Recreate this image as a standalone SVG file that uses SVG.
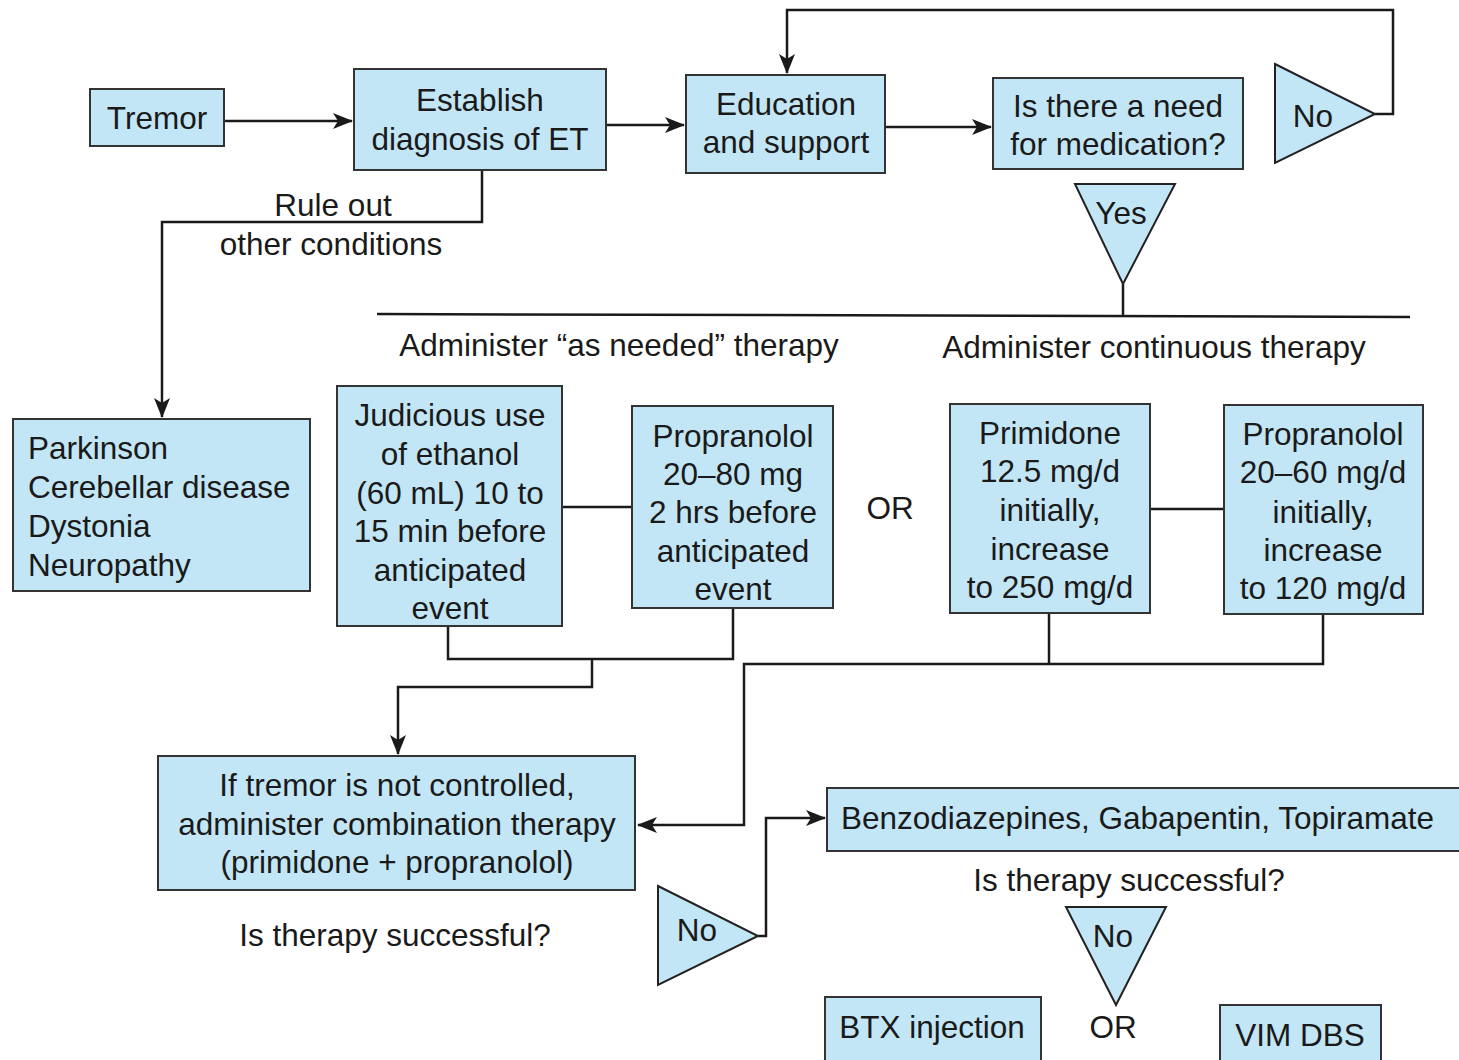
<svg xmlns="http://www.w3.org/2000/svg" width="1459" height="1060" viewBox="0 0 1459 1060">
<defs>
<style>
.box{fill:#c2e6f5;stroke:#333;stroke-width:2}
.tri{fill:#c2e6f5;stroke:#222;stroke-width:2;stroke-linejoin:miter}
.t{font-family:"Liberation Sans",Arial,sans-serif;font-size:31.5px;fill:#1a1a1a;text-anchor:middle}
.l{text-anchor:start}
.c{fill:none;stroke:#1a1a1a;stroke-width:2.5}
</style>
<marker id="ah" viewBox="0 0 20 16" refX="19" refY="8" markerWidth="20" markerHeight="16" markerUnits="userSpaceOnUse" orient="auto">
<path d="M0,0 L20,8 L0,16 L5,8 z" fill="#1a1a1a"/>
</marker>
</defs>
<rect width="1459" height="1060" fill="#fff"/>
<g id="connectors">
<path class="c" d="M224,121 H352" marker-end="url(#ah)"/>
<path class="c" d="M606,125 H684" marker-end="url(#ah)"/>
<path class="c" d="M885,127 H991" marker-end="url(#ah)"/>
<path class="c" d="M1375,114 H1393 V10 H787 V73" marker-end="url(#ah)"/>
<path class="c" d="M1123,284 V316"/>
<path class="c" d="M377,314 L1410,317"/>
<path class="c" d="M482,170 V222 H162 V417" marker-end="url(#ah)"/>
<path class="c" d="M562,507 H632"/>
<path class="c" d="M1150,509 H1224"/>
<path class="c" d="M448,626 V659 H733 V608"/>
<path class="c" d="M592,659 V687 H398 V754" marker-end="url(#ah)"/>
<path class="c" d="M1049,613 V663"/>
<path class="c" d="M1323,614 V664 H744 V825 H638" marker-end="url(#ah)"/>
<path class="c" d="M758,936 H766 V818 H825" marker-end="url(#ah)"/>
</g>
<g id="tremor"><rect class="box" x="90" y="89" width="134" height="57"/><text class="t" x="157" y="129">Tremor</text></g>
<g id="establish"><rect class="box" x="354" y="69" width="252" height="101"/><text class="t" x="480" y="111">Establish</text><text class="t" x="480" y="150">diagnosis of ET</text></g>
<g id="education"><rect class="box" x="686" y="75" width="199" height="98"/><text class="t" x="786" y="115">Education</text><text class="t" x="786" y="153">and support</text></g>
<g id="need"><rect class="box" x="993" y="78" width="250" height="91"/><text class="t" x="1118" y="117">Is there a need</text><text class="t" x="1118" y="155">for medication?</text></g>
<g id="no-top"><polygon class="tri" points="1275,64 1375,114 1275,163"/><text class="t" x="1313" y="127">No</text></g>
<g id="yes"><polygon class="tri" points="1075,184 1175,184 1123,284"/><text class="t" x="1121" y="224">Yes</text></g>
<g id="label-asneeded"><text class="t" x="619" y="356">Administer “as needed” therapy</text></g>
<g id="label-continuous"><text class="t" x="1154" y="358">Administer continuous therapy</text></g>
<g id="label-ruleout"><text class="t" x="333" y="216">Rule out</text><text class="t" x="331" y="255">other conditions</text></g>
<g id="other-conditions"><rect class="box" x="13" y="419" width="297" height="172"/>
<text class="t l" x="28" y="459">Parkinson</text><text class="t l" x="28" y="498">Cerebellar disease</text><text class="t l" x="28" y="537">Dystonia</text><text class="t l" x="28" y="576">Neuropathy</text></g>
<g id="ethanol"><rect class="box" x="337" y="386" width="225" height="240"/>
<text class="t" x="450" y="426">Judicious use</text><text class="t" x="450" y="465">of ethanol</text><text class="t" x="450" y="504">(60 mL) 10 to</text><text class="t" x="450" y="542">15 min before</text><text class="t" x="450" y="581">anticipated</text><text class="t" x="450" y="619">event</text></g>
<g id="propranolol-prn"><rect class="box" x="632" y="406" width="201" height="202"/>
<text class="t" x="733" y="447">Propranolol</text><text class="t" x="733" y="485">20–80 mg</text><text class="t" x="733" y="523">2 hrs before</text><text class="t" x="733" y="562">anticipated</text><text class="t" x="733" y="600">event</text></g>
<g id="or1"><text class="t" x="890" y="519">OR</text></g>
<g id="primidone"><rect class="box" x="950" y="404" width="200" height="209"/>
<text class="t" x="1050" y="444">Primidone</text><text class="t" x="1050" y="482">12.5 mg/d</text><text class="t" x="1050" y="521">initially,</text><text class="t" x="1050" y="560">increase</text><text class="t" x="1050" y="598">to 250 mg/d</text></g>
<g id="propranolol-cont"><rect class="box" x="1224" y="405" width="199" height="209"/>
<text class="t" x="1323" y="445">Propranolol</text><text class="t" x="1323" y="483">20–60 mg/d</text><text class="t" x="1323" y="523">initially,</text><text class="t" x="1323" y="561">increase</text><text class="t" x="1323" y="599">to 120 mg/d</text></g>
<g id="combination"><rect class="box" x="158" y="756" width="477" height="134"/>
<text class="t" x="397" y="796">If tremor is not controlled,</text><text class="t" x="397" y="835">administer combination therapy</text><text class="t" x="397" y="873">(primidone + propranolol)</text></g>
<g id="label-success1"><text class="t" x="395" y="946">Is therapy successful?</text></g>
<g id="no-mid"><polygon class="tri" points="658,886 758,936 658,985"/><text class="t" x="697" y="941">No</text></g>
<g id="benzo"><rect class="box" x="827" y="788" width="640" height="63"/><text class="t l" x="841" y="829">Benzodiazepines, Gabapentin, Topiramate</text></g>
<g id="label-success2"><text class="t" x="1129" y="891">Is therapy successful?</text></g>
<g id="no-bottom"><polygon class="tri" points="1066,907 1166,907 1116,1005"/><text class="t" x="1113" y="947">No</text></g>
<g id="btx"><rect class="box" x="825" y="997" width="216" height="70"/><text class="t" x="932" y="1038">BTX injection</text></g>
<g id="or2"><text class="t" x="1113" y="1038">OR</text></g>
<g id="vim"><rect class="box" x="1220" y="1005" width="161" height="65"/><text class="t" x="1300" y="1046">VIM DBS</text></g>
</svg>
